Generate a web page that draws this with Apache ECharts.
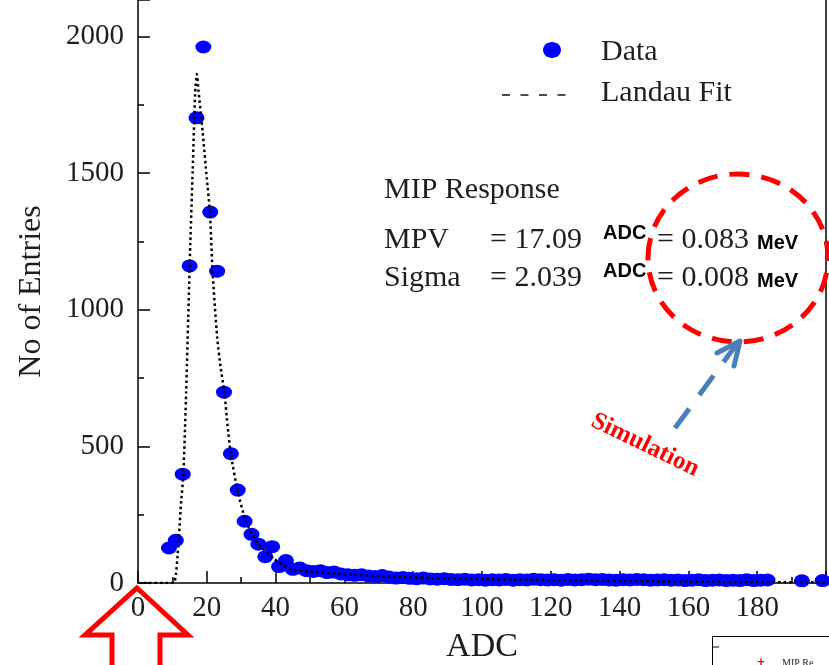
<!DOCTYPE html>
<html>
<head>
<meta charset="utf-8">
<script src="https://cdn.jsdelivr.net/npm/echarts@6/dist/echarts.min.js"></script>
<style>
html,body{margin:0;padding:0;background:#fff;}
#c{width:829px;height:665px;}
</style>
</head>
<body>
<div id="c"></div>
<script>
// ---- data ----
var adcBins = [9,11,13,15,17,19,21,23,25,27,29,31,33,35,37,39,41,43,45,47,49,51,53,55,57,59,61,63,65,67,69,71,73,75,77,79,81,83,85,87,89,91,93,95,97,99,101,103,105,107,109,111,113,115,117,119,121,123,125,127,129,131,133,135,137,139,141,143,145,147,149,151,153,155,157,159,161,163,165,167,169,171,173,175,177,179,181,183,193,199];
var entries = [128,156,398,1160,1702,1961,1357,1141,698,473,340,226,178,142,96,133,60,82,50,55,45,42,45,38,40,33,30,28,30,26,24,27,22,18,20,17,16,18,15,14,16,13,12,14,11,12,10,12,11,13,10,12,11,14,12,11,12,10,13,11,12,14,12,13,11,10,12,11,13,12,10,11,12,10,11,9,10,12,9,10,11,9,10,9,12,9,10,11,8,9];
var fitX = [0,10.3,11,11.5,12,12.5,13.2,14,14.6,15.2,15.9,16.6,17.1,17.6,18.8,20,20.9,21.7,23,24,25.1,26,27,29,31.4,34.8,39.6,44.5,50,59,74,90,110,130,150,170,190,200];
var fitY = [0,0,30,100,190,290,400,700,970,1240,1510,1790,1862,1800,1650,1480,1357,1135,900,790,700,580,470,335,225,145,88,50,42,33,23,17,12,9,6,4,3,2];
var xTicks = [0,20,40,60,80,100,120,140,160,180];
var yTicks = [0,500,1000,1500,2000];
var legendNames = ['Data','Landau Fit'];
var xTitle = 'ADC';
var yTitle = 'No of Entries';
var infoTitle = 'MIP Response';
var infoRows = [['MPV','= 17.09','ADC','= 0.083','MeV'],['Sigma','= 2.039','ADC','= 0.008','MeV']];
var noteText = 'Simulation';
var boxText = 'MIP Re';

var serif = "'Liberation Serif','Times New Roman',serif";
var sans = "'Liberation Sans',Arial,sans-serif";
var txt = '#1e1e1e';

var chart = echarts.init(document.getElementById('c'), null, {renderer:'canvas'});

var scatterData = adcBins.map(function(x,i){return [x, entries[i]];});
var fitData = fitX.map(function(x,i){return [x, fitY[i]];});

var graphics = [];
// legend
graphics.push({type:'ellipse', shape:{cx:552, cy:50, rx:9, ry:8}, style:{fill:'#0000ff'}, z:10});
graphics.push({type:'text', style:{text:legendNames[0], x:601, y:52, font:'30px '+serif, fill:txt, textVerticalAlign:'middle'}, z:10});
graphics.push({type:'line', shape:{x1:502, y1:95, x2:566, y2:95}, style:{stroke:'#111', lineWidth:1.5, lineDash:[8,10.5]}, z:10});
graphics.push({type:'text', style:{text:legendNames[1], x:601, y:93, font:'30px '+serif, fill:txt, textVerticalAlign:'middle'}, z:10});
// info
graphics.push({type:'text', style:{text:infoTitle, x:384, y:190, font:'30px '+serif, fill:txt, textVerticalAlign:'middle'}, z:10});
var rowY = [240, 278];
var colX = [384, 490, 603, 657, 757];
infoRows.forEach(function(r, ri){
  r.forEach(function(t, ci){
    var small = (ci === 2 || ci === 4);
    var y = rowY[ri] + (ci === 2 ? -7 : (ci === 4 ? 3 : 0));
    graphics.push({type:'text', style:{text:t, x:colX[ci], y:y,
      font: small ? 'bold 20px '+sans : '30px '+serif,
      fill: small ? '#000' : txt, textVerticalAlign:'middle'}, z:10});
  });
});
// red dashed ellipse
graphics.push({type:'ellipse', shape:{cx:738, cy:258, rx:90, ry:84}, style:{fill:'none', stroke:'#ff0000', lineWidth:5, lineDash:[20,12]}, z:11});
// blue dashed arrow
graphics.push({type:'line', shape:{x1:675, y1:428, x2:736, y2:345}, style:{stroke:'#4a7ebb', lineWidth:5, lineDash:[24,17]}, z:11});
graphics.push({type:'polyline', shape:{points:[[717,353],[740,341],[734,366]]}, style:{fill:'none', stroke:'#4a7ebb', lineWidth:5, lineJoin:'round', lineCap:'round'}, z:11});
// Simulation text
graphics.push({type:'text', x:645, y:445, rotation:-0.45, style:{text:noteText, x:0, y:0, font:'bold 25px '+serif, fill:'#ff0000', textAlign:'center', textVerticalAlign:'middle'}, z:11});
// red outlined up arrow
graphics.push({type:'polygon', shape:{points:[[137,588],[188,635],[160,635],[160,670],[112,670],[112,635],[85,635]]}, style:{fill:'none', stroke:'#ff0000', lineWidth:5, lineJoin:'miter'}, z:12});
// partial box bottom right
graphics.push({type:'rect', shape:{x:712.5, y:636.5, width:200, height:100}, style:{fill:'#fff', stroke:'#000', lineWidth:1}, z:10});
graphics.push({type:'line', shape:{x1:712.5, y1:647, x2:719, y2:647}, style:{stroke:'#000', lineWidth:1}, z:10});
graphics.push({type:'text', style:{text:'+', x:761, y:662, font:'bold 13px '+sans, fill:'#ff0000', textAlign:'center', textVerticalAlign:'middle'}, z:10});
graphics.push({type:'text', style:{text:boxText, x:782, y:663, font:'10px '+serif, fill:'#222', textVerticalAlign:'middle'}, z:10});

var option = {
  animation:false,
  backgroundColor:'#fff',
  grid:{left:138, right:3, top:0, bottom:82, containLabel:false, outerBoundsMode:'none'},
  xAxis:{type:'value', min:0, max:200, interval:20,
    name:xTitle, nameLocation:'middle', nameGap:47,
    nameTextStyle:{fontFamily:serif, fontSize:34, color:txt},
    axisLine:{lineStyle:{color:'#000', width:1.5}},
    axisTick:{inside:true, length:12, lineStyle:{color:'#000', width:1.5}},
    minorTick:{show:true, splitNumber:2, length:6, lineStyle:{color:'#000', width:1.5}},
    splitLine:{show:false},
    axisLabel:{fontFamily:serif, fontSize:29, color:txt, margin:11,
      formatter:function(v){return xTicks.indexOf(v) >= 0 ? String(v) : '';}}
  },
  yAxis:[{type:'value', min:0, max:2133, interval:500,
    name:yTitle, nameLocation:'middle', nameGap:90, nameRotate:90,
    nameTextStyle:{fontFamily:serif, fontSize:32, color:txt},
    axisLine:{show:true, lineStyle:{color:'#000', width:1.5}},
    axisTick:{inside:true, length:12, lineStyle:{color:'#000', width:1.5}},
    minorTick:{show:true, splitNumber:2, length:6, lineStyle:{color:'#000', width:1.5}},
    splitLine:{show:false},
    axisLabel:{fontFamily:serif, fontSize:29, color:txt, margin:14,
      formatter:function(v){return yTicks.indexOf(v) >= 0 ? String(v) : '';}}
  },{type:'value', min:0, max:2133, position:'right',
    axisLine:{show:true, lineStyle:{color:'#000', width:1.5}},
    axisTick:{show:false}, axisLabel:{show:false}, splitLine:{show:false}
  }],
  series:[
    {name:legendNames[0], type:'scatter', data:scatterData, symbol:'circle', symbolSize:[16,13],
      itemStyle:{color:'#0000ff', opacity:1}, z:3},
    {name:legendNames[1], type:'line', data:fitData, showSymbol:false, smooth:0.2,
      lineStyle:{color:'#000', width:2.5, type:[2.5,3]}, z:4}
  ],
  graphic:graphics
};
chart.setOption(option);
</script>
</body>
</html>
